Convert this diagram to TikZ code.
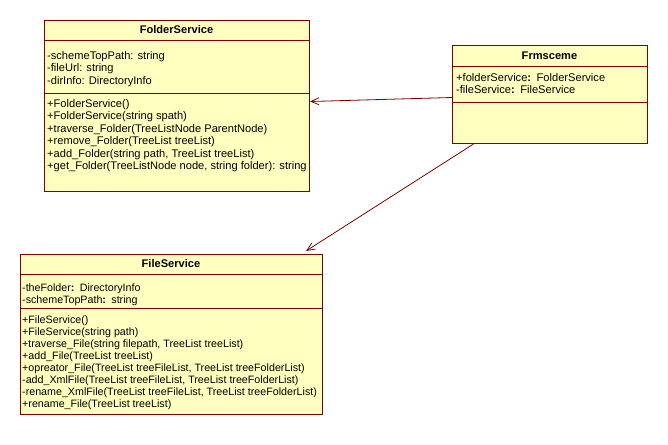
\documentclass[tikz,border=0pt]{standalone}
\usepackage{fontspec}
\setmainfont{Liberation Sans}
\usetikzlibrary{arrows.meta}
\definecolor{bordeaux}{HTML}{800000}
\definecolor{jauneuml}{HTML}{FFFFC0}
\tikzset{
  classe/.style={draw=bordeaux, fill=jauneuml, line width=1pt, anchor=north west, inner sep=0pt},
  separ/.style={draw=bordeaux, line width=1pt},
  titre/.style={font=\fontsize{11.1}{12.5}\selectfont\bfseries, inner sep=0pt},
  membres/.style={font=\fontsize{11.1}{12.5}\selectfont, align=left, anchor=north west, inner sep=0pt},
  petits/.style={membres, font=\fontsize{10.7}{11.9}\selectfont},
  assoc/.style={draw=bordeaux, line width=0.8pt, -{Straight Barb[length=8pt,width=7pt]}}
}
\begin{document}
\begin{tikzpicture}[x=1pt, y=-1pt]
    \useasboundingbox (0,0) rectangle (668,444);

    % Classe FolderService
    \node[classe, minimum width=265pt, minimum height=171pt] (folder) at (44,20) {};
    \draw[separ] ([yshift=-21pt]folder.north west) -- ([yshift=-21pt]folder.north east);
    \draw[separ] ([yshift=-73pt]folder.north west) -- ([yshift=-73pt]folder.north east);
    \node[titre] (folderNom) at (176.5,30) {FolderService};
    \node[membres] (folderAttr) at (47,51) {-schemeTopPath: string\\-fileUrl: string\\-dirInfo: DirectoryInfo};
    \node[membres] (folderOp) at (47,99) {+FolderService()\\+FolderService(string spath)\\+traverse\_Folder(TreeListNode ParentNode)\\+remove\_Folder(TreeList treeList)\\+add\_Folder(string path, TreeList treeList)\\+get\_Folder(TreeListNode node, string folder): string};

    % Classe Frmsceme
    \node[classe, minimum width=195pt, minimum height=98pt] (frm) at (452,45) {};
    \draw[separ] ([yshift=-21pt]frm.north west) -- ([yshift=-21pt]frm.north east);
    \draw[separ] ([yshift=-57pt]frm.north west) -- ([yshift=-57pt]frm.north east);
    \node[titre] (frmNom) at (549.5,55.5) {Frmsceme};
    \node[membres] (frmAttr) at (456,73) {+folderService\textbf{:}\enspace FolderService\\-fileService\textbf{:}\enspace FileService};

    % Classe FileService
    \node[classe, minimum width=302pt, minimum height=160pt] (file) at (20,254) {};
    \draw[separ] ([yshift=-20.5pt]file.north west) -- ([yshift=-20.5pt]file.north east);
    \draw[separ] ([yshift=-54pt]file.north west) -- ([yshift=-54pt]file.north east);
    \node[titre] (fileNom) at (171,264) {FileService};
    \node[petits] (fileAttr) at (22,283.5) {-theFolder\textbf{:}\enspace DirectoryInfo\\-schemeTopPath\textbf{:}\enspace string};
    \node[petits] (fileOp) at (22,316) {+FileService()\\+FileService(string path)\\+traverse\_File(string filepath, TreeList treeList)\\+add\_File(TreeList treeList)\\+opreator\_File(TreeList treeFileList, TreeList treeFolderList)\\-add\_XmlFile(TreeList treeFileList, TreeList treeFolderList)\\-rename\_XmlFile(TreeList treeFileList, TreeList treeFolderList)\\+rename\_File(TreeList treeList)};

    % Associations
    \draw[assoc] ([yshift=-3pt]frm.west) -- ([yshift=4.5pt]folder.east);
    \draw[assoc] ([xshift=-76.5pt]frm.south) -- ([xshift=-17pt,yshift=3pt]file.north east);
\end{tikzpicture}
\end{document}
